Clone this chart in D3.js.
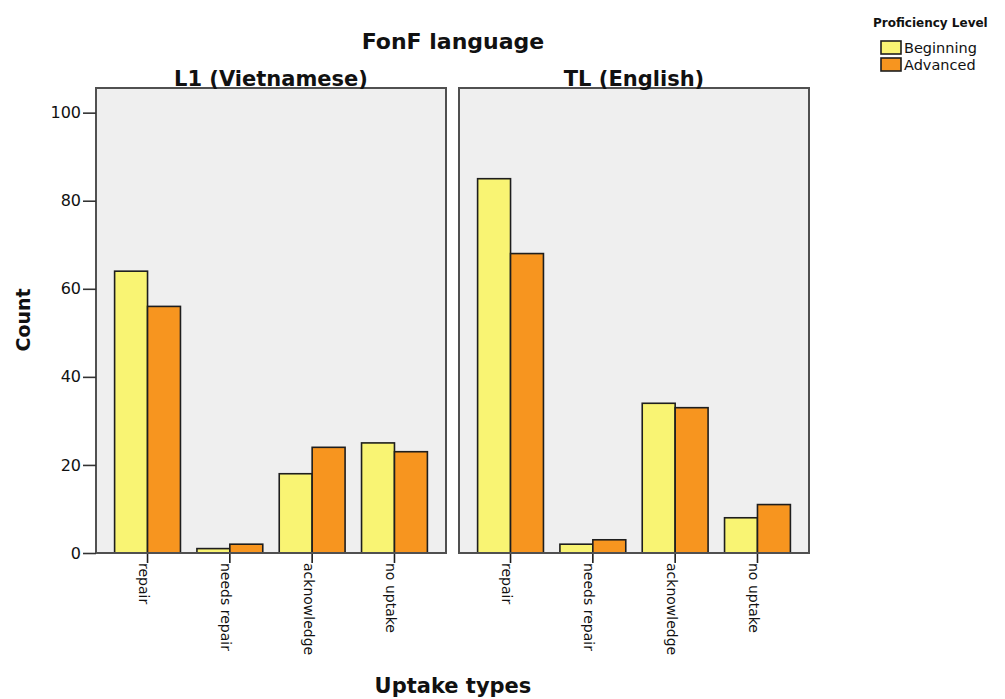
<!DOCTYPE html>
<html>
<head>
<meta charset="utf-8">
<script src="https://cdn.jsdelivr.net/npm/d3@7"></script>
<style>
  html, body { margin: 0; padding: 0; background: #ffffff; }
  svg { display: block; }
  text { font-family: "DejaVu Sans", Verdana, sans-serif; fill: #111; }
</style>
</head>
<body>
<svg id="chart" width="1005" height="699"></svg>
<script>
// ---- data ----
const categories = ["repair", "needs repair", "acknowledge", "no uptake"];
const panels = ["L1 (Vietnamese)", "TL (English)"];
const groups = ["Beginning", "Advanced"];
const l1Beginning = [64, 1, 18, 25];
const l1Advanced = [56, 2, 24, 23];
const tlBeginning = [85, 2, 34, 8];
const tlAdvanced = [68, 3, 33, 11];
const yTicks = [0, 20, 40, 60, 80, 100];
const chartTitle = "FonF language";
const xTitle = "Uptake types";
const yTitle = "Count";
const legendTitle = "Proficiency Level";

const panelValues = {
  "L1 (Vietnamese)": { "Beginning": l1Beginning, "Advanced": l1Advanced },
  "TL (English)": { "Beginning": tlBeginning, "Advanced": tlAdvanced }
};

// ---- styles ----
const colors = d3.scaleOrdinal().domain(groups).range(["#f9f473", "#f7951f"]);
const panelFill = "#efefef";
const panelStroke = "#505050";

const svg = d3.select("#chart");

// ---- scales ----
const panelScale = d3.scaleBand().domain(panels).range([96, 809]).paddingInner(13 / 363);
const pw = panelScale.bandwidth();
const x = d3.scaleBand().domain(categories).range([0, pw]).paddingInner(0.2).paddingOuter(0.226);
const xSub = d3.scaleBand().domain(groups).range([0, x.bandwidth()]);
const y = d3.scaleLinear().domain([0, 105.6]).range([553, 88]);

// ---- title ----
svg.append("text")
  .attr("x", 453).attr("y", 48.5)
  .attr("text-anchor", "middle")
  .style("font-weight", "bold").style("font-size", "22px")
  .text(chartTitle);

// ---- panels ----
panels.forEach(p => {
  const g = svg.append("g").attr("transform", `translate(${panelScale(p)},0)`);

  g.append("rect")
    .attr("x", 0).attr("y", y.range()[1])
    .attr("width", pw).attr("height", y.range()[0] - y.range()[1])
    .attr("fill", panelFill)
    .attr("stroke", panelStroke).attr("stroke-width", 2);

  g.append("text")
    .attr("x", pw / 2).attr("y", 86)
    .attr("text-anchor", "middle")
    .style("font-weight", "bold").style("font-size", "21px")
    .text(p);

  const rows = [];
  categories.forEach((c, i) => {
    groups.forEach(gr => rows.push({ cat: c, group: gr, value: panelValues[p][gr][i] }));
  });

  g.selectAll("rect.bar").data(rows).join("rect")
    .attr("class", "bar")
    .attr("x", d => x(d.cat) + xSub(d.group))
    .attr("y", d => y(d.value))
    .attr("width", xSub.bandwidth())
    .attr("height", d => y(0) - y(d.value))
    .attr("fill", d => colors(d.group))
    .attr("stroke", "#1e1e1e").attr("stroke-width", 1.6);

  // bottom axis (category labels)
  const ax = g.append("g")
    .attr("transform", `translate(0,${y(0)})`)
    .call(d3.axisBottom(x).tickSize(10).tickSizeOuter(0));
  ax.select(".domain").remove();
  ax.selectAll(".tick line").attr("stroke", "#1e1e1e").attr("stroke-width", 1.6);
  ax.selectAll(".tick text")
    .attr("transform", "rotate(90)")
    .attr("text-anchor", "start")
    .attr("x", 10).attr("y", 8.5).attr("dy", 0)
    .style("font-family", "'DejaVu Sans', sans-serif")
    .style("font-size", "14px")
    .attr("fill", "#111");

  // bottom axis line across panel
  g.append("line")
    .attr("x1", 0).attr("x2", pw)
    .attr("y1", y(0)).attr("y2", y(0))
    .attr("stroke", panelStroke).attr("stroke-width", 2);
});

// ---- y axis ----
const yAx = svg.append("g")
  .attr("transform", `translate(${panelScale(panels[0])},0)`)
  .call(d3.axisLeft(y).tickValues(yTicks).tickSize(13).tickPadding(2).tickFormat(d3.format("d")));
yAx.select(".domain").remove();
yAx.selectAll(".tick line").attr("stroke", "#333").attr("stroke-width", 1.6);
yAx.selectAll(".tick text")
  .style("font-family", "'DejaVu Sans', sans-serif")
  .style("font-size", "16px")
  .attr("fill", "#222");

// ---- axis titles ----
svg.append("text")
  .attr("transform", "translate(30,320) rotate(-90)")
  .attr("text-anchor", "middle")
  .style("font-weight", "bold").style("font-size", "19px")
  .text(yTitle);

svg.append("text")
  .attr("x", 453).attr("y", 693)
  .attr("text-anchor", "middle")
  .style("font-weight", "bold").style("font-size", "21px")
  .text(xTitle);

// ---- legend ----
const legend = svg.append("g");
legend.append("text")
  .attr("x", 873).attr("y", 26.5)
  .style("font-weight", "bold").style("font-size", "12px")
  .text(legendTitle);
const li = legend.selectAll("g.item").data(groups).join("g")
  .attr("class", "item")
  .attr("transform", (d, i) => `translate(881,${41 + i * 17})`);
li.append("rect")
  .attr("width", 20).attr("height", 13)
  .attr("fill", d => colors(d))
  .attr("stroke", "#1e1e1e").attr("stroke-width", 1.6);
li.append("text")
  .attr("x", 23).attr("y", 12)
  .style("font-size", "14.5px")
  .text(d => d);
</script>
</body>
</html>
